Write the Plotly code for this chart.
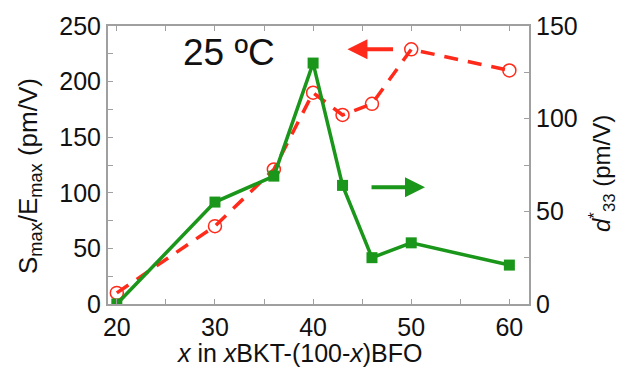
import plotly.graph_objects as go

x_vals = [20, 30, 36, 40, 43, 46, 50, 60]
smax_emax = [10, 70, 121, 190, 170, 180, 229, 210]
d33 = [0, 55, 69, 130, 64, 25, 33, 21]

x_ticks = [20, 30, 40, 50, 60]
y_ticks = [0, 50, 100, 150, 200, 250]
y2_ticks = [0, 50, 100, 150]

RED = "#ff2a1a"
GREEN = "#1a961a"
FONT = "Liberation Sans, Arial, sans-serif"
AX = "#a0a0a0"

fig = go.Figure()
fig.add_trace(go.Scatter(
    x=x_vals, y=smax_emax, mode="lines+markers",
    line=dict(color=RED, width=3.5, dash="14px,10px"),
    marker=dict(symbol="circle-open", size=13, color=RED, line=dict(width=1.5)),
    yaxis="y", showlegend=False))
fig.add_trace(go.Scatter(
    x=x_vals, y=d33, mode="lines+markers",
    line=dict(color=GREEN, width=3.5),
    marker=dict(symbol="square", size=11, color=GREEN),
    yaxis="y2", showlegend=False))

axis_common = dict(showgrid=False, zeroline=False, showline=True, linecolor=AX,
                   linewidth=2, ticks="inside", ticklen=5, tickcolor=AX, tickwidth=1,
                   tickfont=dict(family=FONT, size=25, color="#111"))

fig.update_layout(
    width=624, height=372,
    margin=dict(l=108, r=95, t=18, b=68),
    plot_bgcolor="white", paper_bgcolor="white",
    xaxis=dict(range=[19.1, 62], tickvals=x_ticks, mirror="ticks",
               minor=dict(dtick=5, tick0=20, ticks="inside", ticklen=5, tickcolor=AX),
               **axis_common),
    yaxis=dict(range=[0, 250], tickvals=y_ticks, mirror=True,
               minor=dict(dtick=25, tick0=0, ticks="inside", ticklen=5, tickcolor=AX),
               **axis_common),
    yaxis2=dict(range=[0, 150], tickvals=y2_ticks, overlaying="y", side="right",
                minor=dict(dtick=25, tick0=0, ticks="inside", ticklen=5, tickcolor=AX),
                **axis_common),
)

# axis titles
fig.add_annotation(text="<i>x</i> in <i>x</i>BKT-(100-<i>x</i>)BFO", xref="paper", yref="paper",
                   x=0.455, y=-0.12, yanchor="top", showarrow=False,
                   font=dict(family=FONT, size=25, color="#111"))
fig.add_annotation(text="S<sub>max</sub>/E<sub>max</sub> (pm/V)", xref="paper", yref="paper",
                   x=-0.188, y=0.46, xanchor="center", yanchor="middle", textangle=-90, showarrow=False,
                   font=dict(family=FONT, size=26, color="#111"))
fig.add_annotation(text="<i>d</i><sup>*</sup><sub>33</sub> (pm/V)", xref="paper", yref="paper",
                   x=1.175, y=0.47, xanchor="center", yanchor="middle", textangle=-90, showarrow=False,
                   font=dict(family=FONT, size=24, color="#111"))

# temperature label
fig.add_annotation(text="25 ºC", x=31.4, y=226, xref="x", yref="y", showarrow=False,
                   font=dict(family=FONT, size=37, color="#111"))

# arrows
fig.add_annotation(x=43.5, y=229, ax=48.3, ay=229, xref="x", yref="y", axref="x", ayref="y",
                   showarrow=True, arrowhead=2, arrowsize=1, arrowwidth=4, arrowcolor=RED, text="")
fig.add_annotation(x=51.4, y=105, ax=45.8, ay=105, xref="x", yref="y", axref="x", ayref="y",
                   showarrow=True, arrowhead=2, arrowsize=1, arrowwidth=4, arrowcolor=GREEN, text="")

fig.write_html("out.html")
